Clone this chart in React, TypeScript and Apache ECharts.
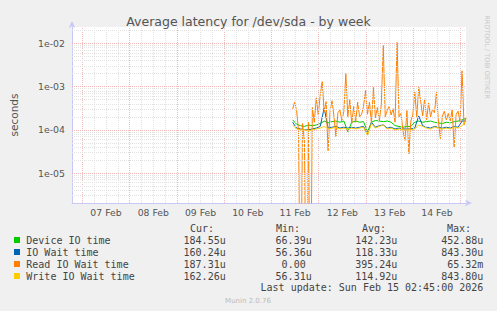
import React, { useEffect, useRef } from 'react';
import * as echarts from 'echarts';

// Time axis: hours since window start (Sun Feb 06 18:45), window = 200 h (30 min / px)
const WINDOW_HOURS = 200;
const dayLabels = ['07 Feb', '08 Feb', '09 Feb', '10 Feb', '11 Feb', '12 Feb', '13 Feb', '14 Feb'];
const firstMidnight = 5.25; // Feb 07 00:00

// Series sampled hourly (Read) and every 2 hours (others), starting at hour 112 (Feb 11 ~10:45)
const readStart = 112;
const readStep = 1;
const readWait = [
  3.0e-4, 4.4e-4, 2.8e-4, 9.5e-5, 0, 1.4e-4, 5.5e-5, 0, 1.5e-4, 0,
  3.3e-4, 1.5e-4, 5.5e-4, 2.2e-4, 6.4e-4, 1.3e-3, 2.6e-4, 4.5e-4, 3.3e-5, 2.8e-4,
  4.7e-4, 2.0e-4, 7.0e-5, 2.5e-4, 2.9e-4, 1.6e-4, 2.7e-4, 2.0e-3, 2.0e-4, 5.0e-4,
  1.4e-4, 3.5e-4, 1.5e-4, 4.4e-4, 2.0e-4, 2.3e-4, 3.5e-4, 8.1e-4, 2.3e-4, 4.4e-4,
  1.4e-4, 9.6e-4, 1.9e-4, 3.3e-4, 1.6e-4, 3.8e-4, 8.9e-3, 2.0e-4, 2.8e-4, 3.5e-4,
  2.2e-4, 3.1e-4, 1.5e-4, 1.05e-2, 2.0e-4, 2.4e-4, 9.6e-5, 5.7e-5, 2.8e-4, 2.8e-5,
  1.6e-4, 2.2e-4, 7.4e-4, 2.0e-4, 9.6e-4, 4.5e-4, 2.1e-4, 5.2e-4, 1.7e-4, 4.2e-4,
  2.0e-4, 3.0e-4, 2.5e-4, 7.4e-4, 1.6e-4, 6.3e-5, 2.1e-4, 2.7e-4, 1.7e-4, 2.4e-4,
  1.6e-4, 2.9e-4, 4.0e-5, 2.3e-4, 2.7e-4, 1.5e-4, 2.3e-3, 1.3e-4, 1.9e-4,
];

const slowStart = 112;
const slowStep = 2;
const deviceIo = [
  1.7e-4, 1.35e-4, 1.25e-4, 1.2e-4, 1.3e-4, 1.25e-4, 1.3e-4, 1.4e-4, 1.6e-4, 1.45e-4,
  1.55e-4, 1.6e-4, 1.5e-4, 1.6e-4, 9.0e-5, 1.5e-4, 1.6e-4, 1.5e-4, 1.55e-4, 9.0e-5,
  1.5e-4, 1.65e-4, 1.6e-4, 1.55e-4, 1.6e-4, 1.5e-4, 1.25e-4, 1.2e-4, 1.15e-4, 1.2e-4,
  1.2e-4, 1.5e-4, 1.6e-4, 1.5e-4, 1.55e-4, 1.6e-4, 1.5e-4, 1.45e-4, 1.4e-4, 1.5e-4,
  1.45e-4, 1.55e-4, 1.6e-4, 1.7e-4, 1.85e-4,
];
const ioWait = [
  1.5e-4, 1.1e-4, 1.05e-4, 1.0e-4, 1.0e-4, 1.05e-4, 1.1e-4, 1.2e-4, 3.2e-4, 1.1e-4,
  1.15e-4, 1.2e-4, 1.1e-4, 1.15e-4, 1.1e-4, 1.15e-4, 1.1e-4, 1.15e-4, 1.2e-4, 7.8e-5,
  1.5e-4, 1.15e-4, 1.25e-4, 1.3e-4, 1.1e-4, 1.15e-4, 1.05e-4, 1.1e-4, 1.05e-4, 1.05e-4,
  1.05e-4, 1.1e-4, 2.1e-4, 1.25e-4, 1.15e-4, 1.1e-4, 1.2e-4, 1.15e-4, 1.1e-4, 1.15e-4,
  1.1e-4, 1.2e-4, 1.15e-4, 1.6e-4, 1.6e-4,
];
const writeWait = [
  1.3e-4, 1.05e-4, 1.0e-4, 1.0e-4, 9.5e-5, 1.0e-4, 1.05e-4, 1.1e-4, 1.2e-4, 1.05e-4,
  1.1e-4, 1.15e-4, 1.05e-4, 1.1e-4, 1.05e-4, 1.1e-4, 1.05e-4, 1.1e-4, 1.15e-4, 7.5e-5,
  1.4e-4, 1.1e-4, 1.2e-4, 1.3e-4, 1.05e-4, 1.1e-4, 1.0e-4, 1.05e-4, 1.0e-4, 1.0e-4,
  1.0e-4, 1.05e-4, 1.3e-4, 1.2e-4, 1.1e-4, 1.05e-4, 1.15e-4, 1.1e-4, 1.05e-4, 1.1e-4,
  1.05e-4, 1.15e-4, 1.1e-4, 1.25e-4, 1.6e-4,
];

const yTickExps = [-5, -4, -3, -2];
const Y_MIN_EXP = -5.689;
const Y_MAX_EXP = -1.624;

const legendNames = ['Device IO time', 'IO Wait time', 'Read IO Wait time', 'Write IO Wait time'];
const legendColors = ['#00CC00', '#0066B3', '#FF8000', '#FFCC00'];
const curVals = ['184.55u', '160.24u', '187.31u', '162.26u'];
const minVals = ['66.39u', '56.36u', '0.00', '56.31u'];
const avgVals = ['142.23u', '118.33u', '395.24u', '114.92u'];
const maxVals = ['452.88u', '843.30u', '65.32m', '843.80u'];
const lastUpdate = 'Last update: Sun Feb 15 02:45:00 2026';

const toLog = (v: number) => (v > 0 ? Math.log10(v) : -9);
const mkData = (vals: number[], start: number, step: number) =>
  vals.map((v, i) => [start + i * step, toLog(v)]);

const MONO = 'DejaVu Sans Mono';
const SANS = 'DejaVu Sans';

export default function App() {
  const ref = useRef<HTMLDivElement>(null);
  useEffect(() => {
    if (!ref.current) return;
    const chart = echarts.init(ref.current, undefined, { renderer: 'svg' });

    const minorColor = '#E2E2E2';
    const majorColor = '#F3B8B8';
    const gridLines: any[] = [];
    // vertical: every 6 hours, major at midnight
    for (let k = 0; ; k++) {
      const h = firstMidnight + k * 6;
      if (h > WINDOW_HOURS) break;
      gridLines.push({
        xAxis: h,
        lineStyle: { color: k % 4 === 0 ? majorColor : minorColor, type: [1, 1], width: 1 },
      });
    }
    for (let e = -6; e <= -2; e++) {
      for (let m = 1; m <= 9; m++) {
        const v = e + Math.log10(m);
        if (v <= Y_MIN_EXP || v >= Y_MAX_EXP) continue;
        gridLines.push({
          yAxis: v,
          lineStyle: { color: m === 1 ? majorColor : minorColor, type: [1, 1], width: 1 },
        });
      }
    }

    const dayNoons = dayLabels.map((_, i) => firstMidnight + 12 + i * 24);

    const graphics: any[] = [];
    const headerY = 228.5;
    const rowY = [240, 252, 264, 276];
    const headers = [
      { t: 'Cur:', x: 190 },
      { t: 'Min:', x: 276 },
      { t: 'Avg:', x: 362 },
      { t: 'Max:', x: 447 },
    ];
    headers.forEach((h) =>
      graphics.push({
        type: 'text',
        x: h.x,
        y: headerY,
        style: { text: h.t, font: `10px "${MONO}"`, fill: '#444', verticalAlign: 'middle', align: 'left' },
      })
    );
    const colEnds = [225.7, 311.7, 397.3, 483.3];
    const cols = [curVals, minVals, avgVals, maxVals];
    legendNames.forEach((name, i) => {
      graphics.push({
        type: 'rect',
        shape: { x: 14, y: rowY[i] - 3, width: 6, height: 6 },
        style: { fill: legendColors[i] },
      });
      graphics.push({
        type: 'text',
        x: 26.3,
        y: rowY[i],
        style: { text: name, font: `10px "${MONO}"`, fill: '#444', verticalAlign: 'middle', align: 'left' },
      });
      cols.forEach((col, c) => {
        const s = col[i];
        const hasUnit = /[a-zA-Z]$/.test(s);
        graphics.push({
          type: 'text',
          x: colEnds[c] - (hasUnit ? 0 : 6),
          y: rowY[i],
          style: { text: s, font: `10px "${MONO}"`, fill: '#444', verticalAlign: 'middle', align: 'right' },
        });
      });
    });
    graphics.push({
      type: 'text',
      x: 483.3,
      y: 287.5,
      style: { text: lastUpdate, font: `10px "${MONO}"`, fill: '#444', verticalAlign: 'middle', align: 'right' },
    });
    graphics.push({
      type: 'text',
      x: 248,
      y: 300.5,
      style: { text: 'Munin 2.0.76', font: `7px "${SANS}"`, fill: '#BBBBBB', verticalAlign: 'middle', align: 'center' },
    });
    graphics.push({
      type: 'text',
      x: 487,
      y: 57,
      rotation: -Math.PI / 2,
      style: { text: 'RRDTOOL / TOBI OETIKER', font: `6.5px "${SANS}"`, fill: '#C8C8C8', verticalAlign: 'middle', align: 'center' },
    });

    const lineSeries = (name: string, color: string, data: any[], z: number) => ({
      type: 'line',
      name,
      data,
      showSymbol: false,
      symbol: 'none',
      clip: true,
      z,
      lineStyle: { color, width: 1 },
      itemStyle: { color },
    });

    chart.setOption({
      animation: false,
      backgroundColor: '#F0F0F0',
      title: {
        text: 'Average latency for /dev/sda - by week',
        left: 'center',
        top: 10,
        textStyle: { fontFamily: SANS, fontSize: 12.5, fontWeight: 'normal', color: '#555' },
      },
      grid: {
        left: 66,
        top: 27,
        width: 400,
        height: 176,
        show: true,
        backgroundColor: '#FFFFFF',
        borderWidth: 0,
      },
      xAxis: {
        type: 'value',
        min: 0,
        max: WINDOW_HOURS,
        axisLine: {
          show: true,
          lineStyle: { color: '#C8C8F8', width: 1 },
          symbol: ['none', 'arrow'],
          symbolSize: [5, 7],
          symbolOffset: [0, 6],
        },
        axisTick: { show: false },
        splitLine: { show: false },
        axisLabel: {
          customValues: dayNoons,
          formatter: (v: number) => {
            const i = Math.round((v - firstMidnight - 12) / 24);
            return dayLabels[i] ?? '';
          },
          color: '#555',
          fontFamily: SANS,
          fontSize: 9.3,
          margin: 5,
        },
      },
      yAxis: {
        type: 'value',
        min: Y_MIN_EXP,
        max: Y_MAX_EXP,
        name: 'seconds',
        nameLocation: 'middle',
        nameRotate: 90,
        nameGap: 53,
        nameTextStyle: { color: '#555', fontFamily: SANS, fontSize: 10.5 },
        axisLine: {
          show: true,
          lineStyle: { color: '#C8C8F8', width: 1 },
          symbol: ['none', 'arrow'],
          symbolSize: [5, 7],
          symbolOffset: [0, 6],
        },
        axisTick: { show: false },
        splitLine: { show: false },
        axisLabel: {
          customValues: yTickExps,
          formatter: (v: number) => '1e-0' + String(Math.round(-v)),
          color: '#555',
          fontFamily: SANS,
          fontSize: 9.4,
          margin: 7,
        },
      },
      series: [
        {
          type: 'line',
          name: 'grid',
          data: [],
          z: 1,
          silent: true,
          markLine: {
            silent: true,
            symbol: ['none', 'none'],
            label: { show: false },
            animation: false,
            data: gridLines,
          },
        },
        lineSeries(legendNames[0], legendColors[0], mkData(deviceIo, slowStart, slowStep), 2),
        lineSeries(legendNames[1], legendColors[1], mkData(ioWait, slowStart, slowStep), 3),
        lineSeries(legendNames[2], legendColors[2], mkData(readWait, readStart, readStep), 4),
        lineSeries(legendNames[3], legendColors[3], mkData(writeWait, slowStart, slowStep), 5),
      ],
      graphic: graphics,
    });
    return () => chart.dispose();
  }, []);
  return <div ref={ref} style={{ position: 'fixed', left: 0, top: 0, width: 497, height: 311 }} />;
}
